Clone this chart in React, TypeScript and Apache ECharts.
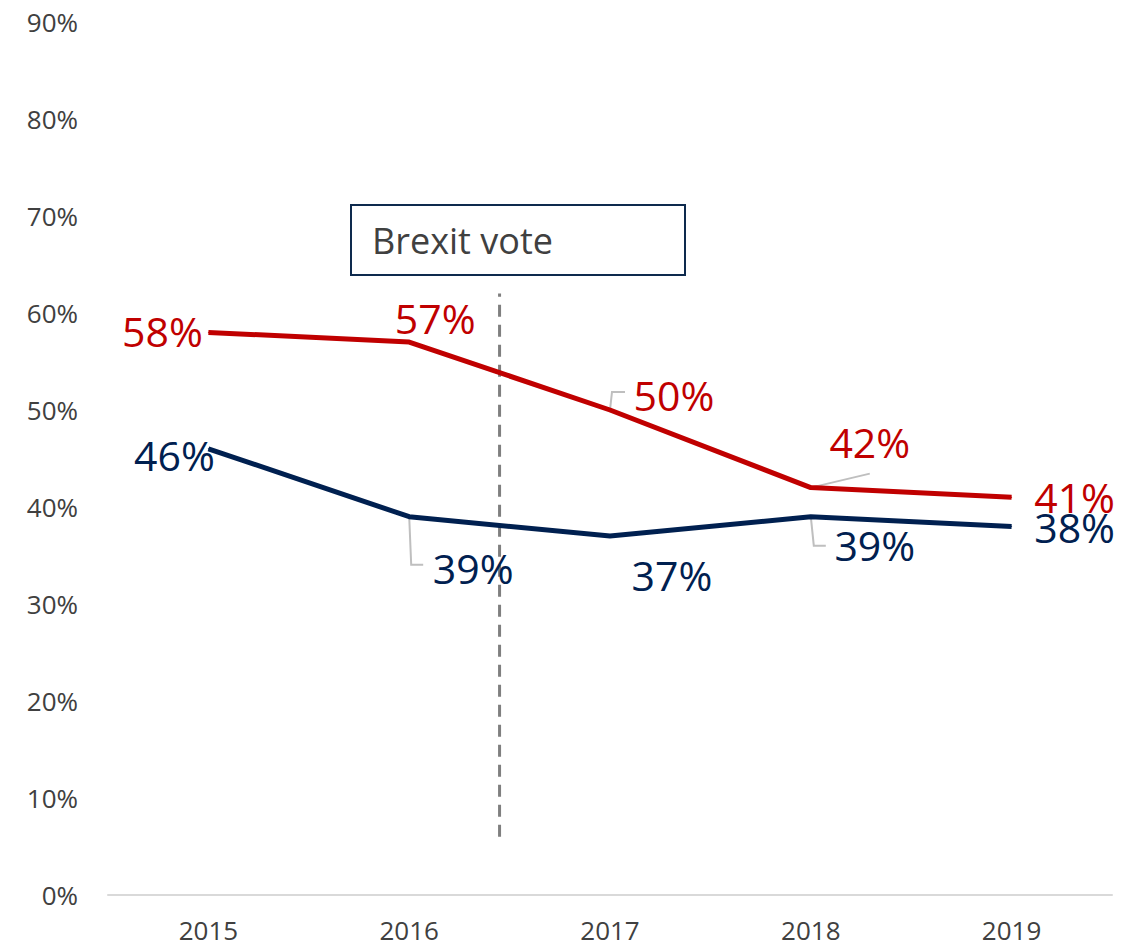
import React, { useEffect, useRef } from "react";
import * as echarts from "echarts";

const years = ["2015", "2016", "2017", "2018", "2019"];
const seriesRed = [58, 57, 50, 42, 41];
const seriesNavy = [46, 39, 37, 39, 38];
const yTicks = [0, 10, 20, 30, 40, 50, 60, 70, 80, 90];
// Brexit vote marker position (fractional category index) and vertical extent (%)
const brexitX = 1.45;
const brexitLine = [6, 62];
const brexitLabel = "Brexit vote";

const RED = "#C00000";
const NAVY = "#002050";
const FONT = "'Open Sans', sans-serif";

// label offsets (px) from point, per series
const redOffsets = [[-46, -1], [26, -24], [64, -15], [59, -46], [63, 0]];
const navyOffsets = [[-34, 6], [64, 51], [62, 39], [64, 28], [63, 1]];
// leader line shapes (px, relative to point), null = none
const redLeaders: (number[][] | null)[] = [null, null, [[0, 0], [2, -18], [15, -18]], [[0, 0], [59, -14]], null];
const navyLeaders: (number[][] | null)[] = [null, [[0, 0], [2, 48], [14, 48]], null, [[0, 0], [3, 29], [15, 29]], null];

export default function App() {
  const ref = useRef<HTMLDivElement>(null);
  useEffect(() => {
    if (!ref.current) return;
    const chart = echarts.init(ref.current, null, { renderer: "svg" });
    const mkLayout = (offs: number[][]) => (params: any) => {
      const o = offs[params.dataIndex];
      return { dx: o[0], dy: o[1] };
    };
    const labelStyle = (color: string) => ({
      show: true,
      position: "inside",
      formatter: "{c}%",
      color,
      fontSize: 41,
      fontFamily: FONT,
    });
    chart.setOption({
      animation: false,
      grid: { left: 108, right: 33, top: 22, bottom: 56, containLabel: false },
      xAxis: [
        {
          type: "category",
          data: years,
          boundaryGap: true,
          axisLine: { lineStyle: { color: "#D9D9D9", width: 2 } },
          axisTick: { show: false },
          axisLabel: { color: "#404040", fontSize: 26, fontFamily: FONT, margin: 22 },
        },
        { type: "value", min: -0.5, max: 4.5, show: false },
      ],
      yAxis: {
        type: "value",
        min: yTicks[0],
        max: yTicks[yTicks.length - 1],
        interval: 10,
        axisLine: { show: false },
        axisTick: { show: false },
        splitLine: { show: false },
        axisLabel: {
          formatter: "{value}%",
          color: "#404040",
          fontSize: 26,
          fontFamily: FONT,
          margin: 30,
        },
      },
      series: [
        {
          type: "line",
          xAxisIndex: 1,
          data: [
            [brexitX, brexitLine[0]],
            [brexitX, brexitLine[1]],
          ],
          symbol: "none",
          lineStyle: { color: "#7F7F7F", width: 3, type: [12, 8] },
          silent: true,
          z: 1,
        },
        {
          type: "line",
          data: seriesRed,
          symbol: "circle",
          symbolSize: 1,
          itemStyle: { color: RED },
          lineStyle: { color: RED, width: 5 },
          label: labelStyle(RED),
          labelLayout: mkLayout(redOffsets),
          z: 3,
        },
        {
          type: "line",
          data: seriesNavy,
          symbol: "circle",
          symbolSize: 1,
          itemStyle: { color: NAVY },
          lineStyle: { color: NAVY, width: 5 },
          label: labelStyle(NAVY),
          labelLayout: mkLayout(navyOffsets),
          z: 3,
        },
      ],
      graphic: [
        {
          id: "box",
          type: "group",
          left: 350,
          top: 204,
          children: [
            {
              type: "rect",
              shape: { x: 0, y: 0, width: 334, height: 70 },
              style: { fill: "#FFFFFF", stroke: "#0E2A4E", lineWidth: 2 },
            },
            {
              type: "text",
              x: 21,
              y: 35,
              style: {
                text: brexitLabel,
                fontSize: 36,
                fontFamily: FONT,
                fill: "#404040",
                verticalAlign: "middle",
              },
            },
          ],
        },
      ],
    });
    const leaders: any[] = [];
    const addLeaders = (vals: number[], shapes: (number[][] | null)[], tag: string) => {
      vals.forEach((v, i) => {
        const s = shapes[i];
        if (!s) return;
        const p = chart.convertToPixel({ xAxisIndex: 0, yAxisIndex: 0 }, [i, v]) as number[];
        leaders.push({
          id: tag + i,
          type: "polyline",
          z: 2,
          shape: { points: s.map((d) => [p[0] + d[0], p[1] + d[1]]) },
          style: { stroke: "#BFBFBF", lineWidth: 2, fill: "none" },
          silent: true,
        });
      });
    };
    addLeaders(seriesRed, redLeaders, "r");
    addLeaders(seriesNavy, navyLeaders, "n");
    chart.setOption({ graphic: leaders });
    return () => chart.dispose();
  }, []);
  return (
    <div
      ref={ref}
      style={{ position: "fixed", left: 0, top: 0, width: 1145, height: 951, background: "#fff" }}
    />
  );
}
